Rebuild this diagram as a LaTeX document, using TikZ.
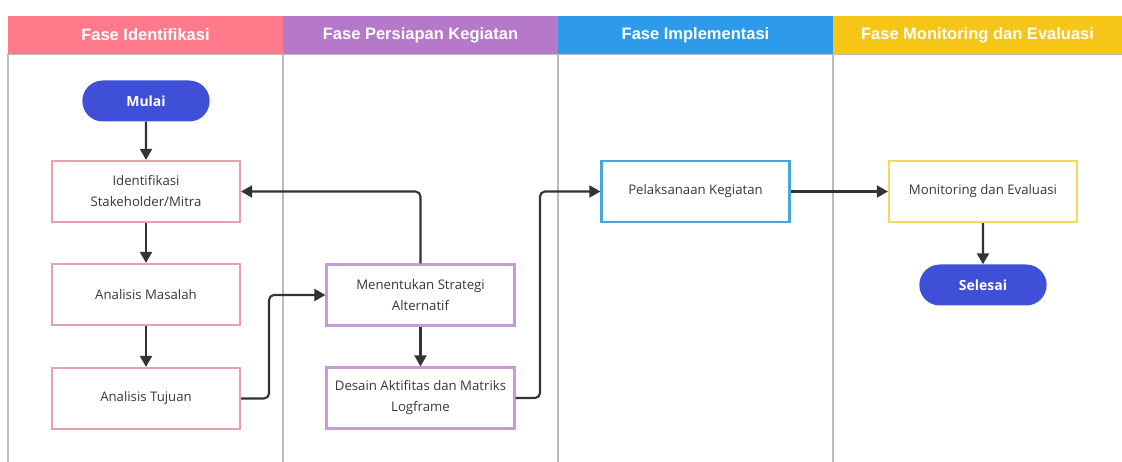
\documentclass[tikz,border=0pt]{standalone}
\usepackage{fontspec}
\setmainfont{Open Sans}
\newfontfamily\headfont{Liberation Sans}
\usetikzlibrary{arrows.meta,shapes.misc}
\definecolor{cpink}{HTML}{FF7A8A}
\definecolor{cpurple}{HTML}{B678C8}
\definecolor{cblue}{HTML}{2D9BEA}
\definecolor{cyellow}{HTML}{F5C518}
\definecolor{cpill}{HTML}{3F4FD8}
\definecolor{bpink}{HTML}{E8A0AA}
\definecolor{bpurple}{HTML}{C89AD6}
\definecolor{bblue}{HTML}{45A6E0}
\definecolor{byellow}{HTML}{F2DA60}
\definecolor{ctext}{HTML}{383838}
\definecolor{cline}{HTML}{BBBBBB}
\definecolor{carrow}{HTML}{333333}
\tikzset{
  header/.style={fill=#1, draw=none, minimum height=38pt, inner sep=0pt, text=white, font=\headfont\bfseries\fontsize{16.5}{18}\selectfont},
  procbox/.style={draw=#1, line width=2.2pt, fill=white, minimum width=188pt, minimum height=61pt, inner sep=2pt, align=center, text=ctext, font=\fontsize{13.2}{21}\selectfont},
  pill/.style={rounded rectangle, fill=cpill, draw=none, minimum width=134pt, minimum height=41pt, text=white, font=\bfseries\fontsize{14}{16}\selectfont},
  conn/.style={draw=carrow, line width=2.1pt, -{Triangle[length=11pt,width=12pt]}, rounded corners=5pt},
  lane/.style={draw=cline, line width=1.1pt}
}
\begin{document}
\begin{tikzpicture}[x=1pt,y=-1pt]
\useasboundingbox (0,0) rectangle (1122,462);
% lanes
\draw[lane] (8,54) -- (8,462);
\draw[lane] (283,54) -- (283,462);
\draw[lane] (558,54) -- (558,462);
\draw[lane] (833,54) -- (833,462);
\draw[lane] (8,54) -- (1122,54);
% headers
\node[header=cpink, minimum width=275pt] (h1) at (145.5,35) {Fase Identifikasi};
\node[header=cpurple, minimum width=275pt] (h2) at (420.5,35) {Fase Persiapan Kegiatan};
\node[header=cblue, minimum width=275pt] (h3) at (695.5,35) {Fase Implementasi};
\node[header=cyellow, minimum width=289pt] (h4) at (977.5,35) {Fase Monitoring dan Evaluasi};
% nodes
\node[pill] (mulai) at (146,101) {Mulai};
\node[procbox=bpink] (ident) at (146,191.5) {Identifikasi\\Stakeholder/Mitra};
\node[procbox=bpink] (masalah) at (146,294.5) {Analisis Masalah};
\node[procbox=bpink] (tujuan) at (146,398.5) {Analisis Tujuan};
\node[procbox=bpurple] (strategi) at (420.5,295) {Menentukan Strategi\\Alternatif};
\node[procbox=bpurple] (desain) at (420.5,398) {Desain Aktifitas dan Matriks\\Logframe};
\node[procbox=bblue] (laksana) at (695.5,191.5) {Pelaksanaan Kegiatan};
\node[procbox=byellow] (monev) at (983,191.5) {Monitoring dan Evaluasi};
\node[pill] (selesai) at (983,285) {Selesai};
% connectors
\draw[conn] (mulai) -- (ident);
\draw[conn] (ident) -- (masalah);
\draw[conn] (masalah) -- (tujuan);
\draw[conn] (tujuan.east) -- (269,398.5) -- (269,295) -- (strategi.west);
\draw[conn] (strategi.north) -- (420.5,191.5) -- (ident.east);
\draw[conn] (strategi) -- (desain);
\draw[conn] (desain.east) -- (540,398) -- (540,191.5) -- (laksana.west);
\draw[conn] (laksana) -- (monev);
\draw[conn] (monev) -- (selesai);
\end{tikzpicture}
\end{document}
